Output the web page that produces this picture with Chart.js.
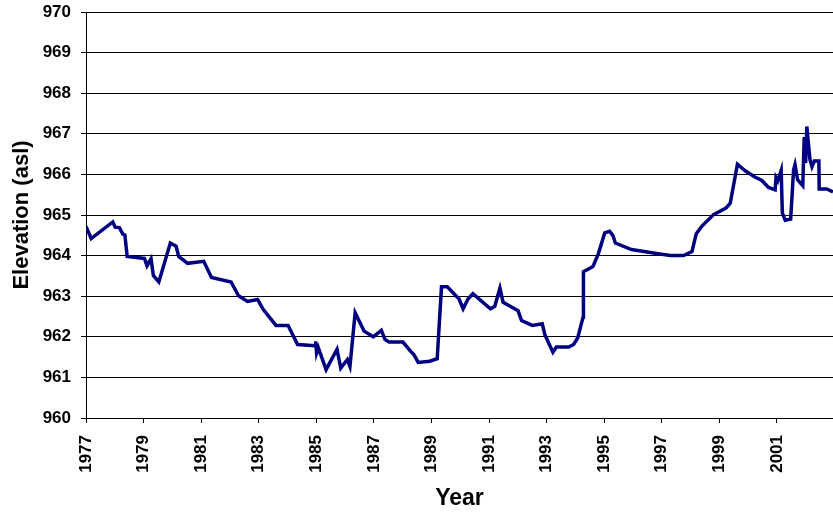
<!DOCTYPE html>
<html>
<head>
<meta charset="utf-8">
<script src="https://cdn.jsdelivr.net/npm/chart.js@4"></script>
<style>
  html, body { margin: 0; padding: 0; background: #fff; }
  #wrap { width: 833px; height: 512px; }
</style>
</head>
<body>
<div id="wrap"><canvas id="c" width="833" height="512"></canvas></div>
<script>
const years = [
  1977.00, 1977.18, 1977.93, 1978.01, 1978.16, 1978.28, 1978.35, 1978.43, 1979.03, 1979.12,
  1979.26, 1979.34, 1979.53, 1979.93, 1980.13, 1980.22, 1980.53, 1981.09, 1981.36, 1982.04,
  1982.30, 1982.61, 1982.96, 1983.16, 1983.60, 1984.02, 1984.35, 1984.96, 1984.98, 1985.01,
  1985.07, 1985.34, 1985.72, 1985.85, 1986.08, 1986.17, 1986.35, 1986.66, 1986.98, 1987.26,
  1987.39, 1987.53, 1988.01, 1988.28, 1988.39, 1988.54, 1988.94, 1989.20, 1989.35, 1989.55,
  1989.96, 1990.10, 1990.27, 1990.44, 1991.05, 1991.20, 1991.38, 1991.49, 1991.69, 1992.01,
  1992.13, 1992.50, 1992.85, 1992.94, 1993.22, 1993.34, 1993.77, 1993.94, 1994.08, 1994.27,
  1994.28, 1994.61, 1994.80, 1995.02, 1995.19, 1995.30, 1995.39, 1995.95, 1996.82, 1997.30,
  1997.76, 1998.05, 1998.20, 1998.39, 1998.80, 1999.23, 1999.38, 1999.63, 1999.90, 2000.25,
  2000.48, 2000.71, 2000.94, 2000.97, 2001.03, 2001.15, 2001.19, 2001.29, 2001.48, 2001.58,
  2001.63, 2001.72, 2001.90, 2001.95, 2002.00, 2002.04, 2002.15, 2002.22, 2002.30, 2002.46,
  2002.47, 2002.73, 2002.95
];
const elevations = [
  964.72, 964.42, 964.83, 964.70, 964.69, 964.53, 964.51, 963.98, 963.93, 963.75,
  963.92, 963.51, 963.35, 964.31, 964.23, 963.98, 963.81, 963.86, 963.46, 963.35,
  963.01, 962.87, 962.92, 962.67, 962.28, 962.28, 961.81, 961.78, 961.89, 961.60,
  961.73, 961.19, 961.69, 961.23, 961.44, 961.27, 962.59, 962.14, 962.00, 962.16,
  961.93, 961.87, 961.87, 961.64, 961.56, 961.37, 961.40, 961.46, 963.23, 963.23,
  962.93, 962.69, 962.93, 963.06, 962.69, 962.75, 963.20, 962.85, 962.77, 962.64,
  962.40, 962.28, 962.32, 962.05, 961.62, 961.75, 961.75, 961.81, 961.97, 962.49,
  963.60, 963.73, 964.05, 964.56, 964.60, 964.50, 964.31, 964.15, 964.05, 964.00,
  964.00, 964.10, 964.54, 964.72, 965.01, 965.17, 965.29, 966.25, 966.09, 965.93,
  965.85, 965.68, 965.62, 965.92, 965.84, 966.10, 965.05, 964.87, 964.90, 966.11,
  966.24, 965.87, 965.72, 966.92, 966.28, 967.18, 966.36, 966.19, 966.33, 966.33,
  965.64, 965.64, 965.57
];
const yearTicks = [1977, 1979, 1981, 1983, 1985, 1987, 1989, 1991, 1993, 1995, 1997, 1999, 2001];
const elevTicks = [960, 961, 962, 963, 964, 965, 966, 967, 968, 969, 970];

const points = years.map((x, i) => ({ x: x, y: elevations[i] }));
const FONT = "'Liberation Sans', Arial, sans-serif";

new Chart(document.getElementById('c'), {
  type: 'line',
  data: {
    datasets: [{
      data: points,
      borderColor: '#000080',
      borderWidth: 3.5,
      pointRadius: 0,
      tension: 0,
      fill: false
    }]
  },
  options: {
    responsive: false,
    animation: false,
    events: [],
    layout: { padding: { left: 0, top: 12, right: 0, bottom: 0 } },
    plugins: { legend: { display: false }, tooltip: { enabled: false } },
    scales: {
      x: {
        type: 'linear',
        min: 1977,
        max: 2002.95,
        afterBuildTicks: (s) => { s.ticks = yearTicks.map(v => ({ value: v })); },
        afterFit: (s) => { s.height = 94; s.paddingLeft = 0; s.paddingRight = 0; },
        border: { display: true, color: '#000', width: 1 },
        grid: { display: true, drawOnChartArea: false, drawTicks: true, tickLength: 5, color: '#000' },
        ticks: {
          minRotation: 90, maxRotation: 90, padding: 12, autoSkip: false,
          color: '#000', font: { family: FONT, size: 17, weight: 'bold' },
          callback: (v) => String(v)
        },
        title: {
          display: true, text: 'Year', color: '#000',
          font: { family: FONT, size: 23, weight: 'bold' },
          padding: { top: 0, bottom: 0 }
        }
      },
      y: {
        min: 960,
        max: 970,
        afterBuildTicks: (s) => { s.ticks = elevTicks.map(v => ({ value: v })); },
        afterFit: (s) => { s.width = 86; s.paddingTop = 0; s.paddingBottom = 0; },
        border: { display: true, color: '#000', width: 1 },
        grid: { display: true, drawOnChartArea: true, drawTicks: true, tickLength: 5, color: '#000' },
        ticks: {
          padding: 10, color: '#000',
          font: { family: FONT, size: 17, weight: 'bold' },
          callback: (v) => String(v)
        },
        title: {
          display: true, text: 'Elevation (asl)', color: '#000',
          font: { family: FONT, size: 22, weight: 'bold' },
          padding: { top: 9, bottom: 0 }
        }
      }
    }
  }
});
</script>
</body>
</html>
